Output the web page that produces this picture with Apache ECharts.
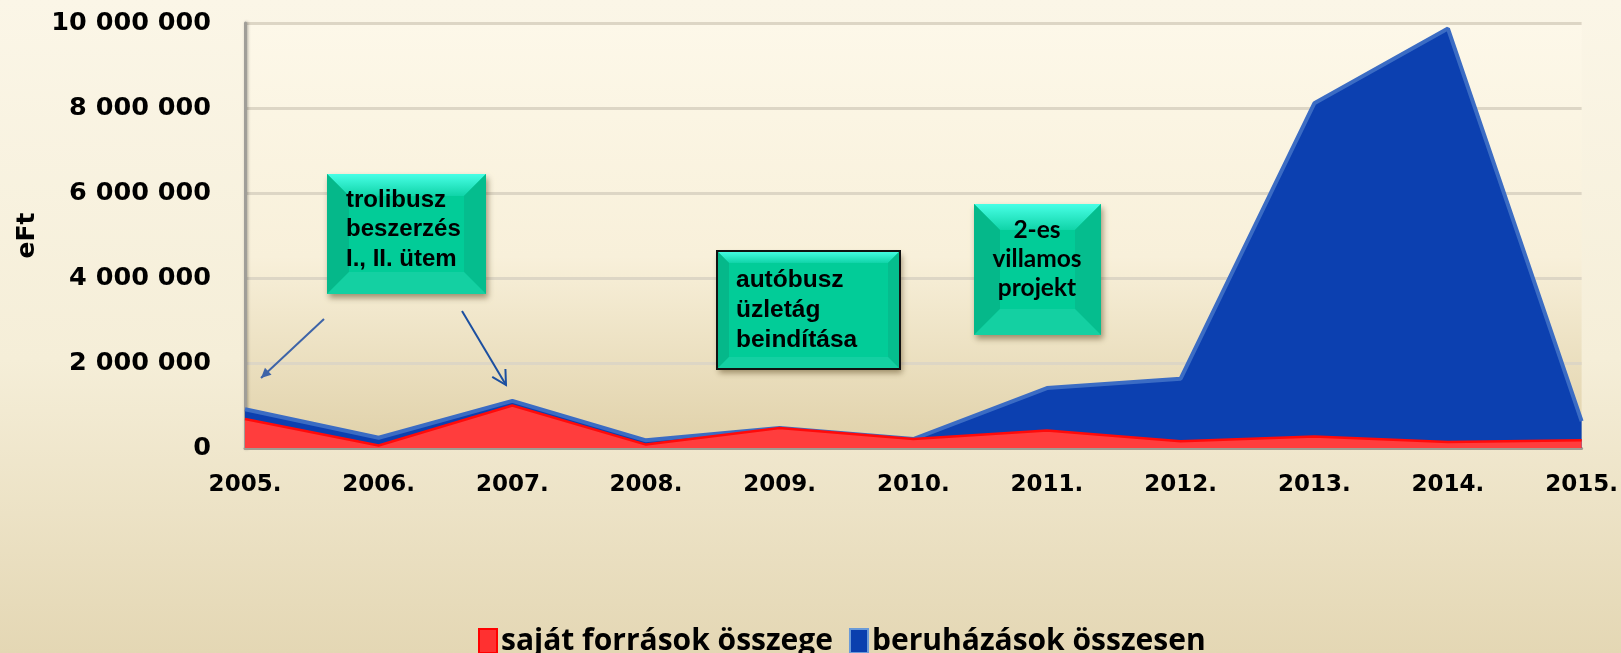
<!DOCTYPE html>
<html>
<head>
<meta charset="utf-8">
<script src="https://cdn.jsdelivr.net/npm/echarts@6/dist/echarts.min.js"></script>
<style>
  html, body { margin: 0; padding: 0; }
  #chart {
    width: 1621px; height: 653px;
    background: linear-gradient(to bottom, #fbf6e7 0%, #f5eed8 55%, #e4d7b4 100%);
  }
</style>
</head>
<body>
<div id="chart"></div>
<script>
// évek
var years = ['2005.', '2006.', '2007.', '2008.', '2009.', '2010.', '2011.', '2012.', '2013.', '2014.', '2015.'];
// beruházások összesen (eFt)
var beruhazasok = [910000, 240000, 1110000, 180000, 470000, 210000, 1410000, 1630000, 8110000, 9870000, 630000];
// saját források összege (eFt)
var sajatForrasok = [680000, 60000, 1000000, 80000, 470000, 210000, 410000, 160000, 270000, 140000, 180000];
var seriesNames = ['saját források összege', 'beruházások összesen'];

let myChart = echarts.init(document.getElementById('chart'));

function fmt(v) {
  return String(v).replace(/\B(?=(\d{3})+(?!\d))/g, ' ');
}

// zöld dobozok (szöveges megjegyzések)
function box(x, y, w, h, lines, opt) {
  var b = opt.bevel;
  var children = [
    { type: 'rect', shape: { x: 0, y: 0, width: w, height: h },
      style: { fill: '#00c995', shadowBlur: 6, shadowOffsetX: 2, shadowOffsetY: 4, shadowColor: 'rgba(60,40,0,0.45)' } },
    { type: 'polygon', shape: { points: [[0, 0], [w, 0], [w - b, b], [b, b]] },
      style: { fill: new echarts.graphic.LinearGradient(0, 0, 0, 1, [{ offset: 0, color: '#48ffe6' }, { offset: 1, color: '#10d4a8' }]) } },
    { type: 'polygon', shape: { points: [[0, 0], [b, b], [b, h - b], [0, h]] },
      style: { fill: '#05b88a' } },
    { type: 'polygon', shape: { points: [[w, 0], [w - b, b], [w - b, h - b], [w, h]] },
      style: { fill: '#05bd8e' } },
    { type: 'polygon', shape: { points: [[0, h], [b, h - b], [w - b, h - b], [w, h]] },
      style: { fill: '#14d0a2' } },
    { type: 'rect', shape: { x: b, y: b, width: w - 2 * b, height: h - 2 * b },
      style: { fill: '#02cc98' } }
  ];
  if (opt.border) {
    children.push({ type: 'rect', shape: { x: 0, y: 0, width: w, height: h },
      style: { fill: null, stroke: '#111', lineWidth: 2 } });
  }
  lines.forEach(function (t, i) {
    children.push({
      type: 'text',
      style: {
        text: t, x: opt.tx, y: opt.ty + i * opt.lh,
        textAlign: opt.align, textVerticalAlign: 'middle',
        font: opt.font, fill: '#000'
      }
    });
  });
  children.forEach(function (c) { c.z = 100; });
  return { type: 'group', x: x, y: y, children: children };
}

function arrow(x1, y1, x2, y2, filled) {
  var ang = Math.atan2(y2 - y1, x2 - x1);
  var L = filled ? 11 : 16, s = filled ? 0.45 : 0.5;
  var p1 = [x2 - L * Math.cos(ang - s), y2 - L * Math.sin(ang - s)];
  var p2 = [x2 - L * Math.cos(ang + s), y2 - L * Math.sin(ang + s)];
  var col = filled ? '#3e64a8' : '#1c4fa0';
  var head = filled
    ? { type: 'polygon', z: 100, shape: { points: [p1, [x2, y2], p2] }, style: { fill: col } }
    : { type: 'polyline', z: 100, shape: { points: [p1, [x2, y2], p2] }, style: { stroke: col, lineWidth: 2, fill: null } };
  return {
    type: 'group', children: [
      { type: 'line', z: 100, shape: { x1: x1, y1: y1, x2: x2, y2: y2 }, style: { stroke: col, lineWidth: 2 } },
      head
    ]
  };
}

let option = {
  backgroundColor: 'transparent',
  animation: false,
  grid: {
    left: 245, right: 39, top: 23, bottom: 205,
    show: true,
    borderWidth: 0,
    backgroundColor: new echarts.graphic.LinearGradient(0, 0, 0, 1, [
      { offset: 0, color: '#fdf8e9' },
      { offset: 0.55, color: '#f8f0da' },
      { offset: 1, color: '#e0d1a9' }
    ])
  },
  legend: {
    left: 473, top: 621,
    itemWidth: 18, itemHeight: 24, itemGap: 16,
    icon: 'rect',
    data: [
      { name: seriesNames[0], itemStyle: { color: '#ff3030', borderColor: '#ff0000', borderWidth: 2 } },
      { name: seriesNames[1], itemStyle: { color: '#0a3fae', borderColor: '#6a9ad8', borderWidth: 2 } }
    ],
    textStyle: { fontFamily: 'Open Sans', fontWeight: 'bold', fontSize: 30, color: '#000', padding: [0, 0, 0, -1] }
  },
  xAxis: {
    type: 'category',
    boundaryGap: false,
    data: years,
    axisLine: { lineStyle: { color: '#a09c92', width: 3 } },
    axisTick: { show: false },
    axisLabel: { color: '#000', fontFamily: 'DejaVu Sans', fontWeight: 'bold', fontSize: 23, margin: 26 },
    splitLine: { show: false }
  },
  yAxis: {
    type: 'value',
    min: 0, max: 10000000, interval: 2000000,
    name: 'eFt',
    nameLocation: 'middle',
    nameGap: 200,
    nameTextStyle: { color: '#000', fontFamily: 'DejaVu Sans', fontWeight: 'bold', fontSize: 25 },
    axisLine: { show: true, lineStyle: { color: '#a09e98', width: 3, shadowBlur: 3, shadowColor: 'rgba(0,0,0,0.3)', shadowOffsetX: 1 } },
    axisTick: { show: false },
    axisLabel: { color: '#000', fontFamily: 'DejaVu Sans', fontWeight: 'bold', fontSize: 25.5, margin: 34, formatter: fmt },
    splitLine: { lineStyle: { color: '#ddd6c5', width: 3 } }
  },
  series: [
    {
      name: seriesNames[1],
      type: 'line',
      data: beruhazasok,
      symbol: 'none',
      z: 2,
      lineStyle: { color: '#3b6cc4', width: 4 },
      itemStyle: { color: '#0a3fae' },
      areaStyle: { color: '#0c40b0', opacity: 1 }
    },
    {
      name: seriesNames[0],
      type: 'line',
      data: sajatForrasok,
      symbol: 'none',
      z: 3,
      lineStyle: { color: '#ff0a0a', width: 2.5 },
      itemStyle: { color: '#ff3030' },
      areaStyle: { color: '#ff3d3d', opacity: 1 }
    }
  ],
  graphic: [
    box(327, 174, 159, 120, ['trolibusz', 'beszerzés', 'I., II. ütem'],
      { bevel: 22, tx: 19, ty: 26, lh: 29.5, align: 'left', font: 'bold 24px "Liberation Sans"' }),
    box(717, 251, 183, 118, ['autóbusz', 'üzletág', 'beindítása'],
      { bevel: 12, border: true, tx: 19, ty: 29, lh: 30, align: 'left', font: 'bold 24.5px "Liberation Sans"' }),
    box(974, 204, 127, 131, ['2-es', 'villamos', 'projekt'],
      { bevel: 26, tx: 63, ty: 26, lh: 29, align: 'center', font: 'bold 24.5px Lato' }),
    arrow(324, 319, 261, 378, true),
    arrow(462, 311, 506, 385, false)
  ]
};
// 把配置给实例对象
myChart.setOption(option);
</script>
</body>
</html>
